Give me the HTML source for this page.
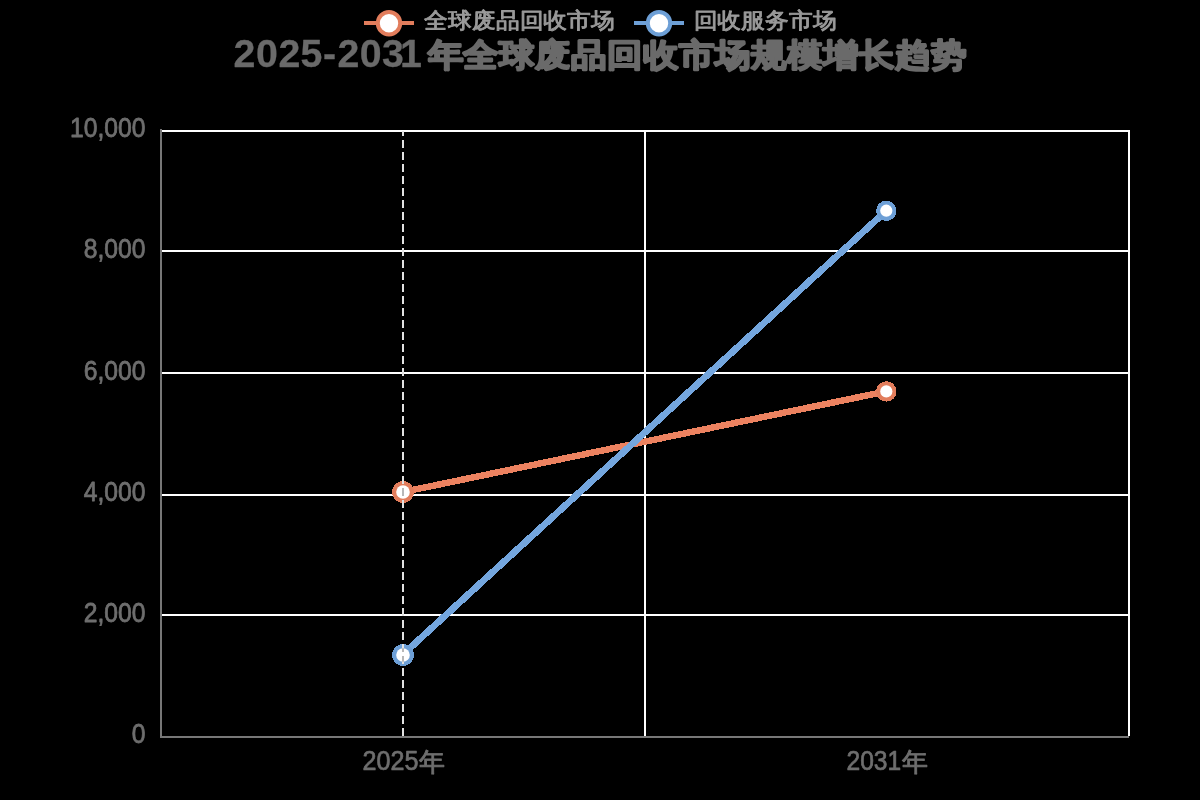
<!DOCTYPE html>
<html><head><meta charset="utf-8">
<style>
html,body{margin:0;padding:0;background:#000;width:1200px;height:800px;overflow:hidden}
svg{display:block;will-change:transform}
text{font-family:"Liberation Sans",sans-serif}
</style></head>
<body>
<svg width="1200" height="800" viewBox="0 0 1200 800">
<rect x="0" y="0" width="1200" height="800" fill="#000"/>
<g fill="#ffffff">
<rect x="162" y="130" width="968" height="2"/>
<rect x="162" y="250" width="968" height="2"/>
<rect x="162" y="372" width="968" height="2"/>
<rect x="162" y="494" width="968" height="2"/>
<rect x="162" y="614" width="968" height="2"/>
<rect x="644" y="130" width="2" height="606"/>
<rect x="1128" y="130" width="2" height="606"/>
</g>
<rect x="160" y="129" width="2" height="609" fill="#777777"/>
<rect x="160" y="736" width="969" height="2" fill="#777777"/>
<line x1="403" y1="492" x2="886.4" y2="391.4" stroke="#EC8260" stroke-width="6.5" shape-rendering="crispEdges"/>
<line x1="403" y1="654.4" x2="886.4" y2="210.6" stroke="#74A6DE" stroke-width="6.8" shape-rendering="crispEdges"/>
<g shape-rendering="crispEdges">
<circle cx="403" cy="492" r="10.9" fill="#E27D5C"/>
<circle cx="886.3" cy="391.4" r="10.2" fill="#E27D5C"/>
<circle cx="403" cy="655" r="10.9" fill="#6D9FD6"/>
<circle cx="886.3" cy="210.8" r="10.2" fill="#6D9FD6"/>
</g>
<circle cx="403" cy="492" r="6.8" fill="#fff"/>
<circle cx="886.3" cy="391.4" r="6.1" fill="#fff"/>
<circle cx="403" cy="655" r="6.8" fill="#fff"/>
<circle cx="886.3" cy="210.7" r="6.1" fill="#fff"/>
<defs>
<clipPath id="c1"><circle cx="403" cy="492" r="6.8"/></clipPath>
<clipPath id="c2"><circle cx="403" cy="655" r="6.8"/></clipPath>
</defs>
<line x1="403" y1="131" x2="403" y2="737" stroke="#E2E2E2" stroke-width="2" stroke-dasharray="8 4" stroke-dashoffset="3"/>
<line x1="403" y1="131" x2="403" y2="737" stroke="#B8B8B8" stroke-width="2" stroke-dasharray="8 4" stroke-dashoffset="3" clip-path="url(#c1)"/>
<line x1="403" y1="131" x2="403" y2="737" stroke="#B8B8B8" stroke-width="2" stroke-dasharray="8 4" stroke-dashoffset="3" clip-path="url(#c2)"/>
<text transform="translate(145.5,136.5) scale(0.875,1.0)" x="0" y="0" font-size="28.2" fill="#6E6E6E" text-anchor="end" font-weight="normal" stroke="#6E6E6E" stroke-width="0.8" stroke-linejoin="round">10,000</text>
<text transform="translate(145.5,257.5) scale(0.875,1.0)" x="0" y="0" font-size="28.2" fill="#6E6E6E" text-anchor="end" font-weight="normal" stroke="#6E6E6E" stroke-width="0.8" stroke-linejoin="round">8,000</text>
<text transform="translate(145.5,379.5) scale(0.875,1.0)" x="0" y="0" font-size="28.2" fill="#6E6E6E" text-anchor="end" font-weight="normal" stroke="#6E6E6E" stroke-width="0.8" stroke-linejoin="round">6,000</text>
<text transform="translate(145.5,500.5) scale(0.875,1.0)" x="0" y="0" font-size="28.2" fill="#6E6E6E" text-anchor="end" font-weight="normal" stroke="#6E6E6E" stroke-width="0.8" stroke-linejoin="round">4,000</text>
<text transform="translate(145.5,621.5) scale(0.875,1.0)" x="0" y="0" font-size="28.2" fill="#6E6E6E" text-anchor="end" font-weight="normal" stroke="#6E6E6E" stroke-width="0.8" stroke-linejoin="round">2,000</text>
<text transform="translate(145.5,742.5) scale(0.875,1.0)" x="0" y="0" font-size="28.2" fill="#6E6E6E" text-anchor="end" font-weight="normal" stroke="#6E6E6E" stroke-width="0.8" stroke-linejoin="round">0</text>
<text transform="translate(362.5,770) scale(0.93,1.0)" x="0" y="0" font-size="27" fill="#6E6E6E" text-anchor="start" font-weight="normal" stroke="#6E6E6E" stroke-width="0.7" stroke-linejoin="round">2025</text>
<text transform="translate(418.7,771) scale(1.0,1.0)" x="0" y="0" font-size="25.5" fill="#6E6E6E" text-anchor="start" font-weight="normal" stroke="#6E6E6E" stroke-width="0.9" stroke-linejoin="round">年</text>
<text transform="translate(846.5,770) scale(0.91,1.0)" x="0" y="0" font-size="27" fill="#6E6E6E" text-anchor="start" font-weight="normal" stroke="#6E6E6E" stroke-width="0.7" stroke-linejoin="round">2031</text>
<text transform="translate(902.2,771) scale(1.0,1.0)" x="0" y="0" font-size="25.5" fill="#6E6E6E" text-anchor="start" font-weight="normal" stroke="#6E6E6E" stroke-width="0.9" stroke-linejoin="round">年</text>
<text transform="translate(233.5,67.3) scale(1.0,1.0)" x="0 22.6 45.0 67.0 89.5 104.0 126.2 148.5 166.5" y="0" font-size="39.3" fill="#6A6A6A" text-anchor="start" font-weight="bold" stroke="#6A6A6A" stroke-width="0.3" stroke-linejoin="round">2025-2031</text>
<text transform="translate(427.5,65.8) scale(1.0,0.9)" x="0.00 36.00 72.00 108.00 144.00 180.00 216.00 252.00 288.00 324.00 360.00 396.00 432.00 468.00 504.00" y="0" font-size="35.8" fill="#6A6A6A" text-anchor="start" font-weight="bold" stroke="#6A6A6A" stroke-width="2.3" stroke-linejoin="round">年全球废品回收市场规模增长趋势</text>

<rect x="364" y="21" width="50" height="4" fill="#E27D5C"/>
<circle cx="389" cy="23.2" r="11.2" fill="#fff" stroke="#E27D5C" stroke-width="4"/>
<text transform="translate(424,27.8) scale(0.995,0.92)" x="0" y="0" font-size="24" fill="#9A9A9A" text-anchor="start" font-weight="normal" stroke="#9A9A9A" stroke-width="1.0" stroke-linejoin="round">全球废品回收市场</text>
<rect x="634" y="21" width="50" height="4" fill="#6D9FD6"/>
<circle cx="659" cy="23.2" r="11.2" fill="#fff" stroke="#6D9FD6" stroke-width="4"/>
<text transform="translate(693.5,27.8) scale(0.995,0.92)" x="0" y="0" font-size="24" fill="#9A9A9A" text-anchor="start" font-weight="normal" stroke="#9A9A9A" stroke-width="1.0" stroke-linejoin="round">回收服务市场</text>

</svg>
</body></html>
